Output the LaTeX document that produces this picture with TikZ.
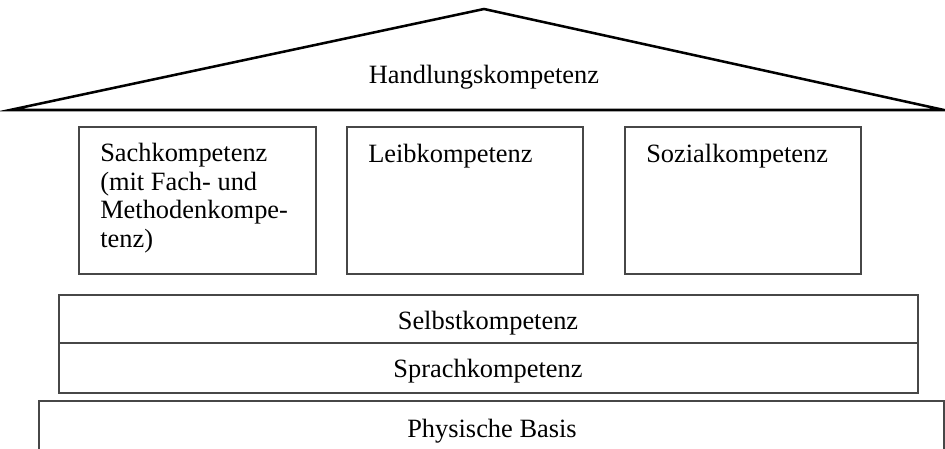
\documentclass[tikz,border=0pt]{standalone}
\usepackage{fontspec}
\setmainfont{Liberation Serif}
\usetikzlibrary{fit}
\begin{document}
\begin{tikzpicture}[x=0.75pt,y=-0.75pt,
  roofline/.style={line width=1.9pt, draw=black, line join=miter},
  boxline/.style={line width=1.2pt, draw=black!72},
  panel/.style={boxline, inner sep=0pt},
  lbl/.style={inner sep=0pt, font=\fontsize{19.8pt}{21.4pt}\selectfont}]
\useasboundingbox (0,0) rectangle (945,449);
% roof
\coordinate (apex) at (484,9);
\coordinate (roofL) at (10,110);
\coordinate (roofR) at (944,110);
\draw[roofline] (roofL) -- (apex) -- (roofR) -- cycle;
\node[lbl, anchor=base] (hk) at (484,84) {Handlungskompetenz};
% three pillars
\node[panel, fit={(79,127) (316,274)}] (b1) {};
\node[panel, fit={(347,127) (583,274)}] (b2) {};
\node[panel, fit={(625,127) (861,274)}] (b3) {};
\node[lbl, anchor=base west, align=left] (t1) at (100,247.5)
  {Sachkompetenz\\(mit Fach- und\\Methodenkompe-\\tenz)};
\node[lbl, anchor=base west] (t2) at (368,162) {Leibkompetenz};
\node[lbl, anchor=base west] (t3) at (646,162) {Sozialkompetenz};
% layers
\node[panel, fit={(59,295) (918,343)}] (selbst) {};
\node[panel, fit={(59,343) (918,393)}] (sprach) {};
\node[lbl, anchor=base] (ts) at (488,329) {Selbstkompetenz};
\node[lbl, anchor=base] (tsp) at (488,377) {Sprachkompetenz};
% base
\coordinate (pbl) at (39,449);
\coordinate (ptl) at (39,401);
\coordinate (ptr) at (944,401);
\coordinate (pbr) at (944,449);
\draw[boxline] (pbl) -- (ptl) -- (ptr) -- (pbr);
\node[lbl, anchor=base] (tp) at (492,437) {Physische Basis};
\end{tikzpicture}
\end{document}
